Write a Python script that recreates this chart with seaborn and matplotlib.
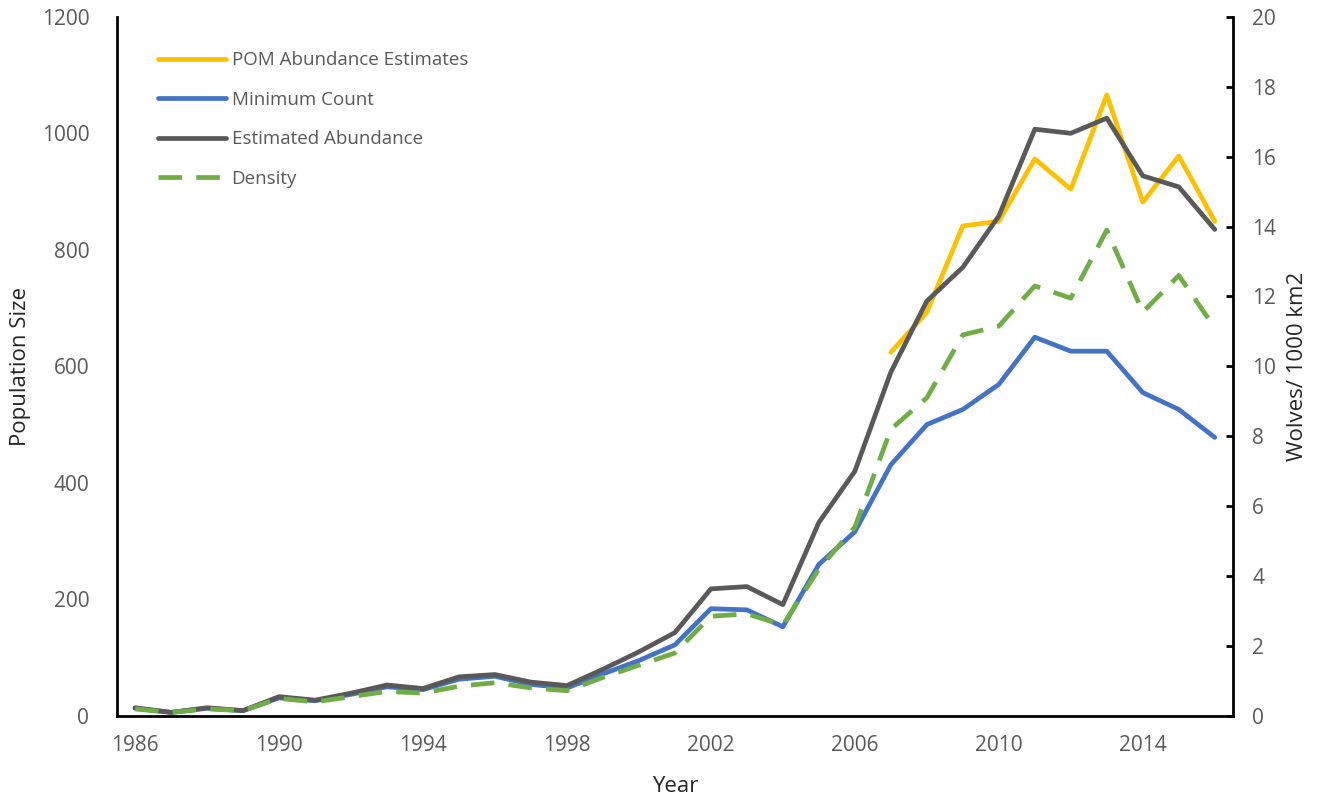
import numpy as np
import pandas as pd
import seaborn as sns
import matplotlib.pyplot as plt
from matplotlib.lines import Line2D

# --------------------------------------------------------------
# Data
# --------------------------------------------------------------
years = list(range(1986, 2017))

pom_years = list(range(2007, 2017))
pom_estimates = [624, 693, 841, 849, 956, 904, 1066, 882, 961, 849]

minimum_count = [13, 6, 13, 9, 31, 26, 37, 50, 45, 63, 68, 54, 48, 72, 95,
                 122, 184, 182, 153, 260, 316, 431, 500, 526, 569, 650, 626,
                 626, 555, 526, 478]

estimated_abundance = [14, 6, 14, 9, 33, 27, 39, 53, 47, 67, 71, 58, 52, 80,
                       110, 143, 218, 222, 191, 332, 420, 590, 712, 770, 858,
                       1007, 1000, 1026, 927, 908, 835]

density = [0.2, 0.1, 0.2, 0.15, 0.5, 0.4, 0.55, 0.7, 0.65, 0.85, 0.95, 0.8,
           0.72, 1.1, 1.45, 1.8, 2.85, 2.92, 2.6, 4.2, 5.4, 8.2, 9.1, 10.9,
           11.15, 12.3, 11.95, 13.9, 11.55, 12.6, 11.1]

series_labels = ["POM Abundance Estimates", "Minimum Count",
                 "Estimated Abundance", "Density"]
series_colors = ["#FFC000", "#4472C4", "#595959", "#70AD47"]

df_main = pd.DataFrame({"Year": years,
                        "Minimum Count": minimum_count,
                        "Estimated Abundance": estimated_abundance,
                        "Density": density})
df_pom = pd.DataFrame({"Year": pom_years, "POM": pom_estimates})

# --------------------------------------------------------------
# Style
# --------------------------------------------------------------
sns.set_style("white")
plt.rcParams["font.family"] = ["Open Sans", "DejaVu Sans"]
tick_color = "#595959"
lw = 3.4
dash = [5, 3]

fig = plt.figure(figsize=(13.33, 7.99), dpi=100)
ax = fig.add_axes([0.0878, 0.104, 0.837, 0.875])
ax2 = ax.twinx()

sns.lineplot(data=df_pom, x="Year", y="POM", ax=ax, color=series_colors[0],
             linewidth=lw)
sns.lineplot(data=df_main, x="Year", y="Minimum Count", ax=ax,
             color=series_colors[1], linewidth=lw)
sns.lineplot(data=df_main, x="Year", y="Estimated Abundance", ax=ax,
             color=series_colors[2], linewidth=lw)
sns.lineplot(data=df_main, x="Year", y="Density", ax=ax2,
             color=series_colors[3], linewidth=lw, dashes=False)
ax2.lines[0].set_dashes(dash)

# --------------------------------------------------------------
# Axes
# --------------------------------------------------------------
ax.set_xlim(1985.5, 2016.5)
ax.set_ylim(0, 1200)
ax2.set_ylim(0, 20)
ax.set_xticks(range(1986, 2017, 4))
ax.set_yticks(range(0, 1201, 200))
ax2.set_yticks(range(0, 21, 2))

for a in (ax, ax2):
    a.spines["top"].set_visible(False)
    for s in a.spines.values():
        s.set_color("black")
        s.set_linewidth(2)
ax.spines["right"].set_visible(False)
ax2.spines["left"].set_visible(False)
ax2.spines["bottom"].set_visible(False)

ax.tick_params(axis="x", length=0, labelsize=15, labelcolor=tick_color,
               pad=14)
ax.tick_params(axis="y", length=0, labelsize=15, labelcolor=tick_color,
               pad=20)
ax2.tick_params(axis="y", direction="in", length=5, width=2, color="black",
                labelsize=15, labelcolor=tick_color, pad=14)

ax.set_xlabel("Year", fontsize=16, labelpad=14)
ax.set_ylabel("Population Size", fontsize=16, labelpad=8)
ax2.set_ylabel("Wolves/ 1000 km2", fontsize=16, labelpad=8)

# --------------------------------------------------------------
# Legend
# --------------------------------------------------------------
handles = [Line2D([], [], color=series_colors[0], linewidth=lw),
           Line2D([], [], color=series_colors[1], linewidth=lw),
           Line2D([], [], color=series_colors[2], linewidth=lw),
           Line2D([], [], color=series_colors[3], linewidth=lw, dashes=dash)]
leg = ax.legend(handles, series_labels, loc="upper left",
                bbox_to_anchor=(0.022, 0.975), frameon=False, fontsize=13.5,
                handlelength=3.6, handletextpad=0.3, labelspacing=1.15)
for t in leg.get_texts():
    t.set_color(tick_color)

fig.savefig("out.png", dpi=100)
